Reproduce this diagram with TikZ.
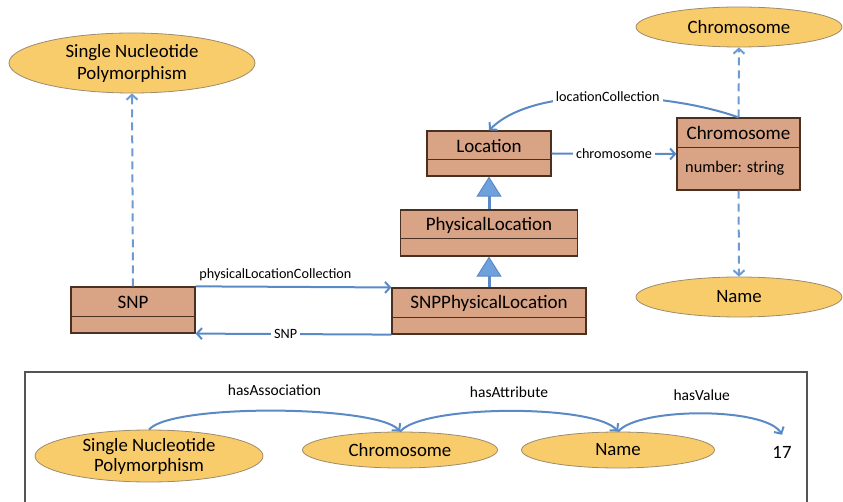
\documentclass[tikz,border=0pt]{standalone}
\usepackage{fontspec}
\setmainfont{Carlito}
\usepackage{tikz}
\usetikzlibrary{shapes.geometric,arrows.meta}
\definecolor{ellfill}{HTML}{F8CB6B}
\definecolor{ellline}{HTML}{9C8B6E}
\definecolor{boxfill}{HTML}{D9A385}
\definecolor{boxline}{HTML}{4A3020}
\definecolor{linkblue}{HTML}{5A8AC6}
\definecolor{dashblue}{HTML}{6B9BD2}
\definecolor{trifill}{HTML}{6EA2DC}
\definecolor{framecol}{HTML}{555555}

\begin{document}
\begin{tikzpicture}[x=1pt,y=1pt]
\tikzstyle{every node}+=[inner sep=0pt]
\tikzstyle{concept}=[ellipse,draw=ellline,fill=ellfill,line width=0.8pt,align=center,font=\fontsize{18.8}{22}\selectfont]
\tikzstyle{umlclass}=[rectangle,draw=boxline,fill=boxfill,line width=1.2pt]
\tikzstyle{title}=[font=\fontsize{19}{21}\selectfont]
\tikzstyle{assoc}=[draw=linkblue,line width=2pt,-{Straight Barb[length=5pt,width=11pt]}]
\tikzstyle{instof}=[draw=dashblue,line width=2pt,dash pattern=on 8pt off 5pt,-{Straight Barb[length=5pt,width=11pt]}]
\tikzstyle{isa}=[draw=linkblue,line width=3pt,-{Triangle[length=20pt,width=25pt,fill=trifill,line width=1pt]}]
\tikzstyle{lbl}=[fill=white,inner sep=3pt,font=\fontsize{14.2}{16}\selectfont]
\tikzstyle{rel}=[font=\fontsize{15.5}{17}\selectfont]
\useasboundingbox (0,0) rectangle (843,-502);

% concepts
\node[concept,minimum width=246pt,minimum height=60pt] (snpconcept) at (132,-63) {Single Nucleotide\\Polymorphism};
\node[concept,minimum width=206pt,minimum height=40pt] (chromconcept) at (739,-27) {Chromosome};
\node[concept,minimum width=206pt,minimum height=40pt] (nameconcept) at (739,-297) {Name};

% classes
\node[umlclass,minimum width=124pt,minimum height=46pt] (snp) at (133,-310) {};
\draw[boxline,line width=1.2pt] ([yshift=17pt]snp.south west) -- ([yshift=17pt]snp.south east);
\node[title] (snptitle) at (133,-302.5) {SNP};
\node[umlclass,minimum width=194pt,minimum height=46pt] (snpphys) at (489,-311) {};
\draw[boxline,line width=1.2pt] ([yshift=17pt]snpphys.south west) -- ([yshift=17pt]snpphys.south east);
\node[title] (snpphystitle) at (489,-303.5) {SNPPhysicalLocation};
\node[umlclass,minimum width=177pt,minimum height=46pt] (physloc) at (489,-233) {};
\draw[boxline,line width=1.2pt] ([yshift=18pt]physloc.south west) -- ([yshift=18pt]physloc.south east);
\node[title] (physloctitle) at (489,-225) {PhysicalLocation};
\node[umlclass,minimum width=124pt,minimum height=45pt] (loc) at (489,-153.5) {};
\draw[boxline,line width=1.2pt] ([yshift=17pt]loc.south west) -- ([yshift=17pt]loc.south east);
\node[title] (loctitle) at (489,-146) {Location};
\node[umlclass,minimum width=123pt,minimum height=72pt] (chrom) at (738.5,-154) {};
\draw[boxline,line width=1.2pt] ([yshift=43pt]chrom.south west) -- ([yshift=43pt]chrom.south east);
\node[title] (chromtitle) at (738.5,-133) {Chromosome};
\node[anchor=west,font=\fontsize{16.3}{18}\selectfont] (chromattr) at (685,-168) {number: string};

% links
\draw[instof] (snp.north) -- (snpconcept.south);
\draw[instof] (chrom.north) -- (chromconcept.south);
\draw[instof] (chrom.south) -- (nameconcept.north);
\draw[isa] (snpphys.north) -- (physloc.south);
\draw[isa] (physloc.north) -- (loc.south);
\draw[assoc] (loc.east) -- node[lbl] {chromosome} (chrom.west);
\draw[assoc] (chrom.north) to[out=160,in=45,looseness=0.7] node[lbl] {locationCollection} (loc.north);
\draw[assoc] (snp.north east) to[out=0,in=180,looseness=0.3] node[lbl,above=2pt,pos=0.43,fill=none] {physicalLocationCollection} (snpphys.north west);
\draw[assoc] (snpphys.south west) -- node[lbl,pos=0.54] {SNP} (snp.south east);

% example statement
\draw[framecol,line width=1.5pt] (25,-502) -- (25,-372) -- (807,-372) -- (807,-502);
\node[concept,minimum width=228pt,minimum height=52pt,font=\fontsize{18.8}{20}\selectfont] (bsnp) at (149,-456) {Single Nucleotide\\Polymorphism};
\node[concept,minimum width=195pt,minimum height=36pt] (bchrom) at (400,-450) {Chromosome};
\node[concept,minimum width=193pt,minimum height=36pt] (bname) at (618,-450) {Name};
\node[minimum height=34pt,font=\fontsize{18.8}{20}\selectfont] (val) at (782,-452) {17};
\draw[assoc] (bsnp.north) to[out=50,in=130,looseness=0.35] node[rel,above=14pt] {hasAssociation} (bchrom.north);
\draw[assoc] (bchrom.north) to[out=50,in=130,looseness=0.42] node[rel,above=12pt] {hasAttribute} (bname.north);
\draw[assoc] (bname.north) to[out=50,in=120,looseness=0.5] node[rel,above=12pt] {hasValue} (val.north);
\end{tikzpicture}
\end{document}
